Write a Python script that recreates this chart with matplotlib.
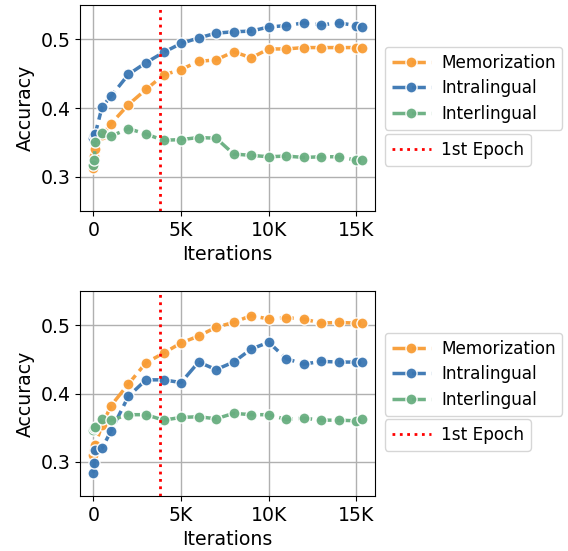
import matplotlib.pyplot as plt
from matplotlib.lines import Line2D

iterations = [0, 50, 100, 500, 1000, 2000, 3000, 4000, 5000, 6000, 7000,
              8000, 9000, 10000, 11000, 12000, 13000, 14000, 15000, 15300]
epoch = 3825

# top panel
top_memo = [0.312, 0.330, 0.340, 0.360, 0.377, 0.405, 0.427, 0.448, 0.456, 0.468,
            0.470, 0.482, 0.473, 0.486, 0.486, 0.488, 0.488, 0.488, 0.488, 0.488]
top_intra = [0.356, 0.360, 0.362, 0.402, 0.417, 0.449, 0.466, 0.481, 0.494, 0.502,
             0.509, 0.511, 0.512, 0.518, 0.520, 0.524, 0.521, 0.524, 0.520, 0.518]
top_inter = [0.317, 0.324, 0.350, 0.363, 0.359, 0.370, 0.362, 0.353, 0.354, 0.357,
             0.356, 0.333, 0.331, 0.329, 0.330, 0.328, 0.329, 0.329, 0.324, 0.324]

# bottom panel
bot_memo = [0.310, 0.318, 0.325, 0.354, 0.382, 0.414, 0.445, 0.459, 0.474, 0.484,
            0.497, 0.504, 0.514, 0.509, 0.511, 0.509, 0.503, 0.504, 0.503, 0.503]
bot_intra = [0.284, 0.298, 0.318, 0.320, 0.345, 0.396, 0.420, 0.420, 0.416, 0.446,
             0.435, 0.446, 0.465, 0.475, 0.451, 0.443, 0.447, 0.446, 0.446, 0.446]
bot_inter = [0.346, 0.349, 0.351, 0.362, 0.361, 0.369, 0.369, 0.361, 0.365, 0.366,
             0.363, 0.371, 0.369, 0.369, 0.362, 0.364, 0.361, 0.361, 0.360, 0.363]

names = ["Memorization", "Intralingual", "Interlingual"]
colors = ["#f89c34", "#3a76b2", "#68ae80"]

xticks = [0, 5000, 10000, 15000]
xticklabels = ["0", "5K", "10K", "15K"]
yticks = [0.3, 0.4, 0.5]

fig = plt.figure(figsize=(5.68, 5.51), dpi=100)
ax1 = fig.add_axes([80 / 568, 1 - 211 / 551, 295 / 568, 206 / 551])
ax2 = fig.add_axes([80 / 568, 1 - 496 / 551, 295 / 568, 205 / 551])

for ax, series in [(ax1, [top_memo, top_intra, top_inter]),
                   (ax2, [bot_memo, bot_intra, bot_inter])]:
    ax.grid(True, color="#b0b0b0", linewidth=1)
    ax.set_axisbelow(True)
    for vals, name, c in zip(series, names, colors):
        ax.plot(iterations, vals, linestyle=(0, (4, 1.6)), linewidth=2.5, color=c,
                marker="o", markersize=8, markeredgecolor="white",
                markeredgewidth=1, label=name, alpha=0.95)
    ax.axvline(epoch, color="red", linestyle=":", linewidth=2)
    ax.set_ylim(0.25, 0.55)
    ax.set_yticks(yticks)
    ax.set_xticks(xticks)
    ax.set_xticklabels(xticklabels)
    ax.tick_params(labelsize=13.6)
    ax.set_xlabel("Iterations", fontsize=13.6)
    ax.set_ylabel("Accuracy", fontsize=13.6)

    leg1 = ax.legend(loc="upper left", bbox_to_anchor=(1.034, 0.796),
                     fontsize=12.2, handlelength=2.3, handletextpad=0.6,
                     labelspacing=0.45, borderaxespad=0)
    ax.add_artist(leg1)
    epoch_handle = Line2D([], [], color="red", linestyle=":", linewidth=2)
    ax.legend([epoch_handle], ["1st Epoch"], loc="upper left",
              bbox_to_anchor=(1.034, 0.374), fontsize=12.2, handlelength=2.3,
              handletextpad=0.6, borderaxespad=0)

fig.savefig("out.png", dpi=100)
